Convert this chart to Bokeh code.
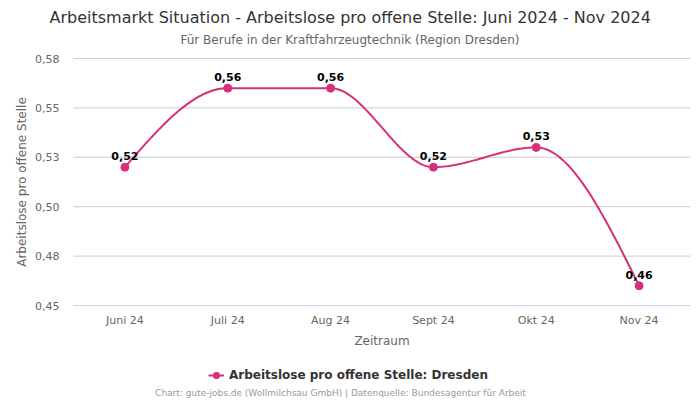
import numpy as np
from bokeh.plotting import figure
from bokeh.models import (Legend, LegendItem, ColumnDataSource, Range1d, LabelSet,
                          Label, Title)
from bokeh.core.properties import value
from bokeh.embed import file_html
from bokeh.resources import INLINE

# ---- data ----
months = ["Juni 24", "Juli 24", "Aug 24", "Sept 24", "Okt 24", "Nov 24"]
values = [0.52, 0.56, 0.56, 0.52, 0.53, 0.46]
y_ticks = [0.45, 0.475, 0.5, 0.525, 0.55, 0.575]
y_tick_labels = ["0,45", "0,48", "0,50", "0,53", "0,55", "0,58"]
series_name = "Arbeitslose pro offene Stelle: Dresden"
x_title = "Zeitraum"
y_title = "Arbeitslose pro offene Stelle"
title_text = "Arbeitsmarkt Situation - Arbeitslose pro offene Stelle: Juni 2024 - Nov 2024"
subtitle_text = "Für Berufe in der Kraftfahrzeugtechnik (Region Dresden)"
footer_text = "Chart: gute-jobs.de (Wollmilchsau GmbH) | Datenquelle: Bundesagentur für Arbeit"

# ---- layout / style constants (pixels) ----
W, H = 700, 400
FRAME_TOP = 49                      # below the title panels
PL, PR, PT, PB = 73, 690, 58, 305   # plot area inside the frame (page pixels)
COLOR = "#d6307b"
FONT = "DejaVu Sans"

xs = list(range(len(months)))
value_labels = [f"{v:.2f}".replace(".", ",") for v in values]

# ranges so that the category bands / tick extent fill the plot area
n = len(months)
band = (PR - PL) / n
x_lo, x_hi = -0.5, n - 0.5
y_lo, y_hi = y_ticks[0], y_ticks[-1]
k = (PB - PT) / (y_hi - y_lo)
x_range = Range1d(x_lo - PL / band, x_hi + (W - PR) / band)
y_range = Range1d(y_lo - (H - PB) / k, y_hi + (PT - FRAME_TOP) / k)


def monotone_x(x, y, n=40):
    x = np.asarray(x, float)
    y = np.asarray(y, float)
    m = len(x)
    h = np.diff(x)
    s = np.diff(y) / h
    t = np.zeros(m)
    for i in range(1, m - 1):
        s0, s1 = s[i - 1], s[i]
        h0, h1 = h[i - 1], h[i]
        p = (s0 * h1 + s1 * h0) / (h0 + h1)
        t[i] = (np.sign(s0) + np.sign(s1)) * min(abs(s0), abs(s1), 0.5 * abs(p))
    t[0] = (3 * s[0] - t[1]) / 2
    t[-1] = (3 * s[-1] - t[-2]) / 2
    px, py = [], []
    u = np.linspace(0, 1, n)
    for i in range(m - 1):
        dx = h[i] / 3
        P = [(x[i], y[i]), (x[i] + dx, y[i] + dx * t[i]),
             (x[i + 1] - dx, y[i + 1] - dx * t[i + 1]), (x[i + 1], y[i + 1])]
        bx = ((1 - u) ** 3 * P[0][0] + 3 * (1 - u) ** 2 * u * P[1][0]
              + 3 * (1 - u) * u ** 2 * P[2][0] + u ** 3 * P[3][0])
        by = ((1 - u) ** 3 * P[0][1] + 3 * (1 - u) ** 2 * u * P[1][1]
              + 3 * (1 - u) * u ** 2 * P[2][1] + u ** 3 * P[3][1])
        px.extend(bx.tolist())
        py.extend(by.tolist())
    return px, py


cx, cy = monotone_x(xs, values)

p = figure(width=W, height=H, output_backend="svg", toolbar_location=None,
           x_range=x_range, y_range=y_range, title=None,
           x_axis_location=None, y_axis_location=None,
           min_border_left=0, min_border_right=0, min_border_top=FRAME_TOP,
           min_border_bottom=0)
p.outline_line_color = None
p.background_fill_color = "white"
p.border_fill_color = "white"
p.grid.visible = False

# horizontal grid lines at the y ticks, and the x axis line
grid_src = ColumnDataSource(dict(y=y_ticks, x0=[x_lo] * len(y_ticks), x1=[x_hi] * len(y_ticks)))
p.segment(x0="x0", x1="x1", y0="y", y1="y", source=grid_src, line_color="#cccccc", line_width=1)
p.segment(x0=[x_lo], x1=[x_hi], y0=[y_lo], y1=[y_lo], line_color="#ccd6eb", line_width=1)

# series
line_r = p.line(cx, cy, line_color=COLOR, line_width=2)
src = ColumnDataSource(dict(x=xs, y=values, lab=value_labels))
pts_r = p.scatter("x", "y", source=src, size=8, fill_color=COLOR, line_color=COLOR)

p.add_layout(LabelSet(x="x", y="y", text="lab", source=src, y_offset=11,
                      text_align="center", text_baseline="middle",
                      text_font=value(FONT), text_font_size="11px", text_font_style="bold",
                      text_color="black"))

# x tick labels
xt_src = ColumnDataSource(dict(x=xs, y=[y_lo] * n, t=months))
p.add_layout(LabelSet(x="x", y="y", text="t", source=xt_src, y_offset=-15,
                      text_align="center", text_baseline="middle",
                      text_font=value(FONT), text_font_size="11px", text_color="#666666"))
# y tick labels
yt_src = ColumnDataSource(dict(x=[x_lo] * len(y_ticks), y=y_ticks, t=y_tick_labels))
p.add_layout(LabelSet(x="x", y="y", text="t", source=yt_src, x_offset=-14,
                      text_align="right", text_baseline="middle",
                      text_font=value(FONT), text_font_size="11px", text_color="#666666"))
# axis titles
p.add_layout(Label(x=(x_lo + x_hi) / 2, y=y_lo, y_offset=-35, text=x_title,
                   text_align="center", text_baseline="middle", text_font=FONT,
                   text_font_size="12px", text_color="#666666"))
p.add_layout(Label(x=21, x_units="screen", y=(y_lo + y_hi) / 2, text=y_title,
                   angle=np.pi / 2, text_align="center", text_baseline="middle",
                   text_font=FONT, text_font_size="12px", text_color="#666666"))

# titles (above): first added sits closest to the plot
p.add_layout(Title(text=subtitle_text, align="left", offset=180, standoff=6,
                   text_font=FONT, text_font_size="12px", text_font_style="normal",
                   text_color="#666666"), "above")
p.add_layout(Title(text=title_text, align="left", offset=49, standoff=2,
                   text_font=FONT, text_font_size="16px", text_font_style="normal",
                   text_color="#333333"), "above")

# legend (inside the frame, below the plot area)
legend = Legend(items=[LegendItem(label=series_name, renderers=[line_r, pts_r])],
                orientation="horizontal", location=(208, 15),
                label_text_font=FONT, label_text_font_size="12px",
                label_text_font_style="bold", label_text_color="#333333",
                border_line_color=None, background_fill_alpha=0,
                glyph_width=16, margin=0, padding=2, label_standoff=5)
p.add_layout(legend, "center")

# footer
p.add_layout(Label(x=340, y=8, x_units="screen", y_units="screen", text=footer_text,
                   text_align="center", text_baseline="middle", text_font=FONT,
                   text_font_size="9px", text_color="#999999"))

open("out.html", "w").write(file_html(p, INLINE))
